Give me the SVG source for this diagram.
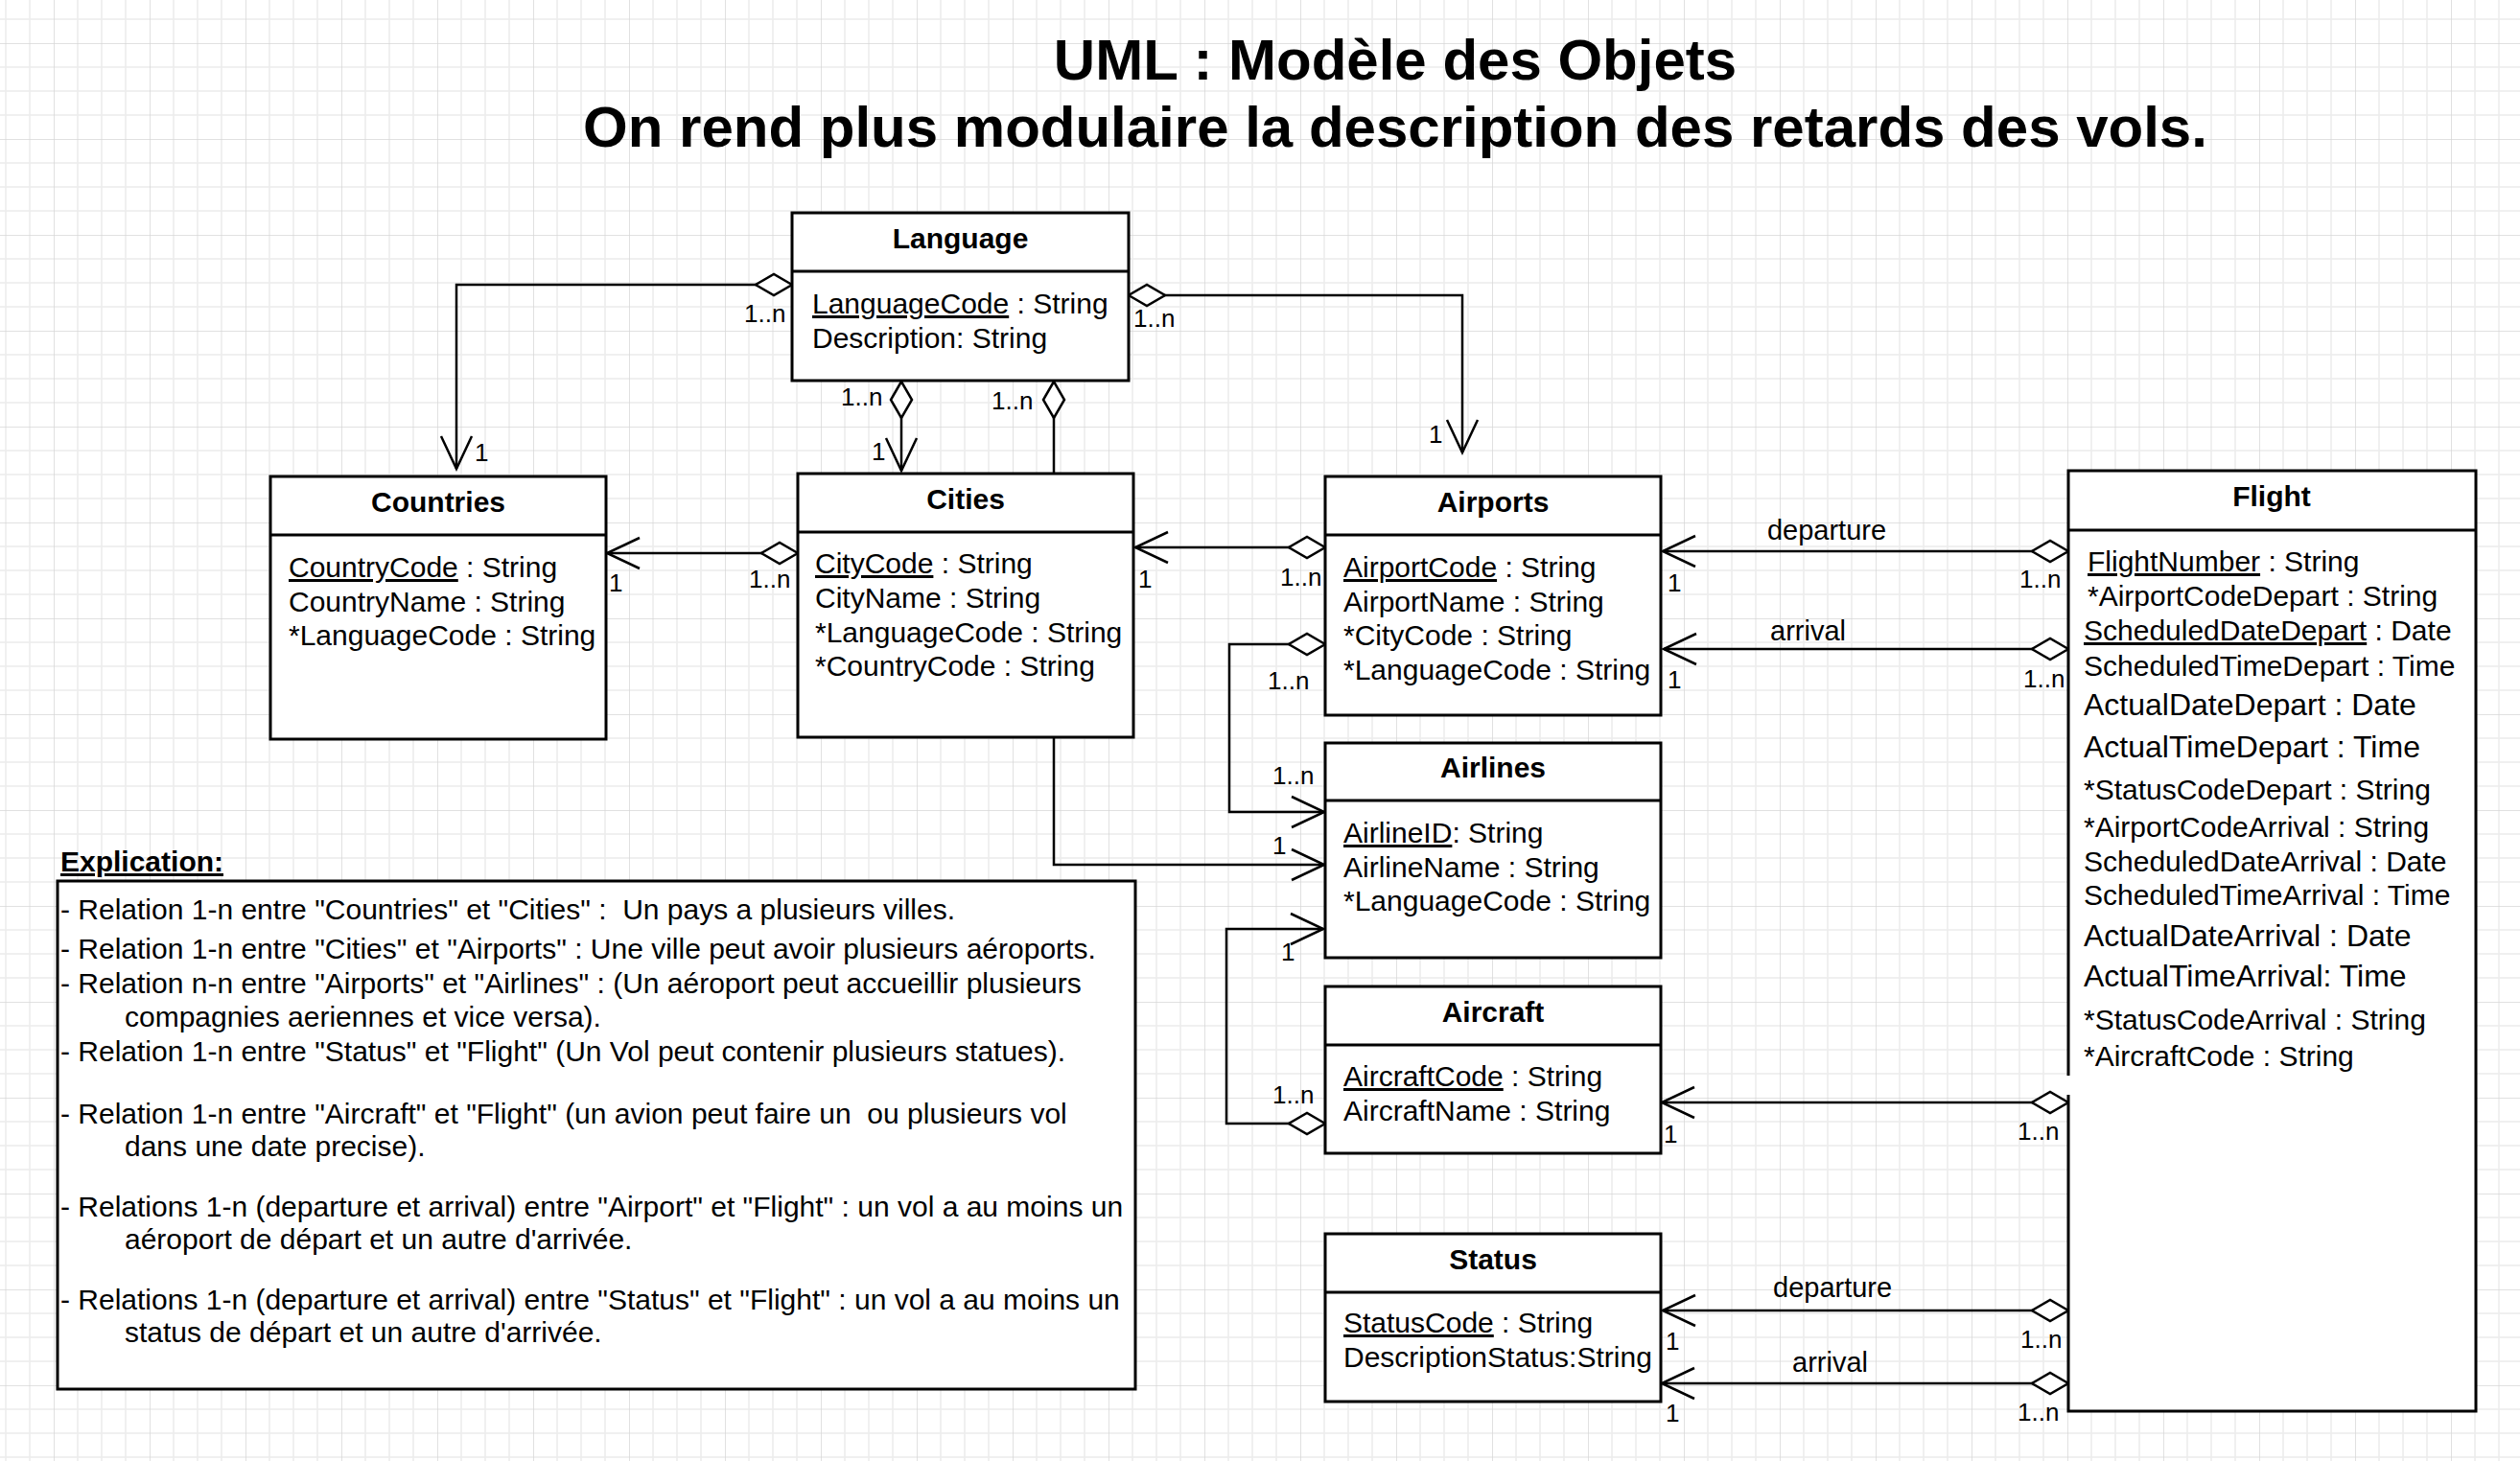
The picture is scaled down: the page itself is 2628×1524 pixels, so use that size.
<svg xmlns="http://www.w3.org/2000/svg" width="2628" height="1524" viewBox="0 0 2628 1524">
<style>
text{font-family:"Liberation Sans",Arial,sans-serif;fill:#000;white-space:pre}
.box{fill:#fff;stroke:#000;stroke-width:3}
.div{stroke:#000;stroke-width:3}
.hd{font-size:30px;font-weight:bold;text-anchor:middle}
.at{font-size:30px}
.big{font-size:32px}
.ex{font-size:30px}
.lbl{font-size:26px}
.el{font-size:29px}
.title{font-size:60px;font-weight:bold;text-anchor:middle}
.con{fill:none;stroke:#000;stroke-width:2.5}
</style>
<defs>
<pattern id="grid" patternUnits="userSpaceOnUse" x="56" y="45" width="100" height="100">
<path d="M25,0V100M50,0V100M75,0V100M0,25H100M0,50H100M0,75H100" stroke="#ececec" stroke-width="1.5" fill="none"/>
<path d="M0,0V100M0,0H100" stroke="#d7d7d7" stroke-width="1.5" fill="none"/>
</pattern>
<marker id="dia" markerUnits="userSpaceOnUse" markerWidth="46" markerHeight="30" viewBox="-42 -15 46 30" refX="0" refY="0" orient="auto-start-reverse">
<path d="M0,0 L-19,-11 L-38,0 L-19,11 Z" fill="#fff" stroke="#000" stroke-width="2.5"/>
</marker>
<marker id="arr" markerUnits="userSpaceOnUse" markerWidth="42" markerHeight="40" viewBox="-38 -20 42 40" refX="0" refY="0" orient="auto">
<path d="M-34,-16 L0,0 L-34,16" fill="none" stroke="#000" stroke-width="2.5"/>
</marker>
</defs>
<rect width="2628" height="1524" fill="#fff"/>
<rect width="2628" height="1524" fill="url(#grid)"/>

<g id="title">
<text class="title" x="1455" y="83">UML : Modèle des Objets</text>
<text class="title" x="1455" y="153">On rend plus modulaire la description des retards des vols.</text>
</g>

<g id="connectors">
<path class="con" d="M826,297 H476 V489" marker-start="url(#dia)" marker-end="url(#arr)"/>
<path class="con" d="M1177,308 H1525 V472" marker-start="url(#dia)" marker-end="url(#arr)"/>
<path class="con" d="M940,398 V491" marker-start="url(#dia)" marker-end="url(#arr)"/>
<path class="con" d="M1099,398 V494" marker-start="url(#dia)"/>
<path class="con" d="M832,577 H633" marker-start="url(#dia)" marker-end="url(#arr)"/>
<path class="con" d="M1382,571 H1184" marker-start="url(#dia)" marker-end="url(#arr)"/>
<path class="con" d="M2157,575 H1734" marker-start="url(#dia)" marker-end="url(#arr)"/>
<path class="con" d="M2157,677 H1735" marker-start="url(#dia)" marker-end="url(#arr)"/>
<path class="con" d="M1382,672 H1282 V847 H1381" marker-start="url(#dia)" marker-end="url(#arr)"/>
<path class="con" d="M1099,769 V902 H1381" marker-end="url(#arr)"/>
<path class="con" d="M1382,1172 H1279 V969 H1380" marker-start="url(#dia)" marker-end="url(#arr)"/>
<path class="con" d="M2157,1150 H1733" marker-start="url(#dia)" marker-end="url(#arr)"/>
<path class="con" d="M2157,1367 H1734" marker-start="url(#dia)" marker-end="url(#arr)"/>
<path class="con" d="M2157,1443 H1733" marker-start="url(#dia)" marker-end="url(#arr)"/>
<text class="lbl" x="776" y="336">1..n</text>
<text class="lbl" x="495" y="481">1</text>
<text class="lbl" x="1182" y="341">1..n</text>
<text class="lbl" x="1490" y="462">1</text>
<text class="lbl" x="877" y="423">1..n</text>
<text class="lbl" x="909" y="480">1</text>
<text class="lbl" x="1034" y="427">1..n</text>
<text class="lbl" x="781" y="613">1..n</text>
<text class="lbl" x="635" y="617">1</text>
<text class="lbl" x="1335" y="611">1..n</text>
<text class="lbl" x="1187" y="613">1</text>
<text class="el" x="1905" y="563" text-anchor="middle">departure</text>
<text class="lbl" x="2106" y="613">1..n</text>
<text class="lbl" x="1739" y="617">1</text>
<text class="el" x="1846" y="668">arrival</text>
<text class="lbl" x="2110" y="717">1..n</text>
<text class="lbl" x="1739" y="718">1</text>
<text class="lbl" x="1322" y="719">1..n</text>
<text class="lbl" x="1327" y="818">1..n</text>
<text class="lbl" x="1327" y="891">1</text>
<text class="lbl" x="1336" y="1002">1</text>
<text class="lbl" x="1327" y="1151">1..n</text>
<text class="lbl" x="2104" y="1189">1..n</text>
<text class="lbl" x="1735" y="1192">1</text>
<text class="el" x="1849" y="1353">departure</text>
<text class="lbl" x="2107" y="1406">1..n</text>
<text class="lbl" x="1737" y="1408">1</text>
<text class="el" x="1869" y="1431">arrival</text>
<text class="lbl" x="2104" y="1482">1..n</text>
<text class="lbl" x="1737" y="1483">1</text>
</g>

<g id="language">
<rect class="box" x="826" y="222" width="351" height="175"/>
<line class="div" x1="826" y1="283" x2="1177" y2="283"/>
<text class="hd" x="1001.5" y="259">Language</text>
<text class="at" x="847" y="327"><tspan text-decoration="underline">LanguageCode</tspan> : String</text>
<text class="at" x="847" y="363">Description: String</text>
</g>

<g id="countries">
<rect class="box" x="282" y="497" width="350" height="274"/>
<line class="div" x1="282" y1="558" x2="632" y2="558"/>
<text class="hd" x="457" y="534">Countries</text>
<text class="at" x="301" y="602"><tspan text-decoration="underline">CountryCode</tspan> : String</text>
<text class="at" x="301" y="637.5">CountryName : String</text>
<text class="at" x="301" y="673">*LanguageCode : String</text>
</g>

<g id="cities">
<rect class="box" x="832" y="494" width="350" height="275"/>
<line class="div" x1="832" y1="555" x2="1182" y2="555"/>
<text class="hd" x="1007" y="531">Cities</text>
<text class="at" x="850" y="598"><tspan text-decoration="underline">CityCode</tspan> : String</text>
<text class="at" x="850" y="634">CityName : String</text>
<text class="at" x="850" y="669.5">*LanguageCode : String</text>
<text class="at" x="850" y="705">*CountryCode : String</text>
</g>

<g id="airports">
<rect class="box" x="1382" y="497" width="350" height="249"/>
<line class="div" x1="1382" y1="558" x2="1732" y2="558"/>
<text class="hd" x="1557" y="534">Airports</text>
<text class="at" x="1401" y="602"><tspan text-decoration="underline">AirportCode</tspan> : String</text>
<text class="at" x="1401" y="637.5">AirportName : String</text>
<text class="at" x="1401" y="673">*CityCode : String</text>
<text class="at" x="1401" y="708.5">*LanguageCode : String</text>
</g>

<g id="airlines">
<rect class="box" x="1382" y="775" width="350" height="224"/>
<line class="div" x1="1382" y1="835" x2="1732" y2="835"/>
<text class="hd" x="1557" y="811">Airlines</text>
<text class="at" x="1401" y="879"><tspan text-decoration="underline">AirlineID</tspan>: String</text>
<text class="at" x="1401" y="914.5">AirlineName : String</text>
<text class="at" x="1401" y="950">*LanguageCode : String</text>
</g>

<g id="aircraft">
<rect class="box" x="1382" y="1029" width="350" height="174"/>
<line class="div" x1="1382" y1="1090" x2="1732" y2="1090"/>
<text class="hd" x="1557" y="1066">Aircraft</text>
<text class="at" x="1401" y="1133"><tspan text-decoration="underline">AircraftCode</tspan> : String</text>
<text class="at" x="1401" y="1168.5">AircraftName : String</text>
</g>

<g id="status">
<rect class="box" x="1382" y="1287" width="350" height="175"/>
<line class="div" x1="1382" y1="1348" x2="1732" y2="1348"/>
<text class="hd" x="1557" y="1324">Status</text>
<text class="at" x="1401" y="1390"><tspan text-decoration="underline">StatusCode</tspan> : String</text>
<text class="at" x="1401" y="1426">DescriptionStatus:String</text>
</g>

<g id="flight">
<rect class="box" x="2157" y="491" width="425" height="981"/>
<line class="div" x1="2157" y1="553" x2="2582" y2="553"/>
<text class="hd" x="2369" y="528">Flight</text>
<text class="at" x="2177" y="596"><tspan text-decoration="underline">FlightNumber</tspan> : String</text>
<text class="at" x="2177" y="632">*AirportCodeDepart : String</text>
<text class="at" x="2173" y="668"><tspan text-decoration="underline">ScheduledDateDepart</tspan> : Date</text>
<text class="at" x="2173" y="705">ScheduledTimeDepart : Time</text>
<text class="big" x="2173" y="746">ActualDateDepart : Date</text>
<text class="big" x="2173" y="790">ActualTimeDepart : Time</text>
<text class="at" x="2173" y="834">*StatusCodeDepart : String</text>
<text class="at" x="2173" y="873">*AirportCodeArrival : String</text>
<text class="at" x="2173" y="909">ScheduledDateArrival : Date</text>
<text class="at" x="2173" y="944">ScheduledTimeArrival : Time</text>
<text class="big" x="2173" y="987">ActualDateArrival : Date</text>
<text class="big" x="2173" y="1029">ActualTimeArrival: Time</text>
<text class="at" x="2173" y="1074">*StatusCodeArrival : String</text>
<text class="at" x="2173" y="1112">*AircraftCode : String</text>
<rect x="2155" y="1122" width="16" height="20" fill="#fff"/>
</g>

<g id="explication">
<text x="63" y="909" style="font-size:30px;font-weight:bold;text-decoration:underline">Explication:</text>
<rect class="box" x="60" y="919" width="1124" height="530"/>
<text class="ex" x="63" y="959">- Relation 1-n entre "Countries" et "Cities" :  Un pays a plusieurs villes.</text>
<text class="ex" x="63" y="1000">- Relation 1-n entre "Cities" et "Airports" : Une ville peut avoir plusieurs aéroports.</text>
<text class="ex" x="63" y="1036">- Relation n-n entre "Airports" et "Airlines" : (Un aéroport peut accueillir plusieurs</text>
<text class="ex" x="130" y="1071">compagnies aeriennes et vice versa).</text>
<text class="ex" x="63" y="1107">- Relation 1-n entre "Status" et "Flight" (Un Vol peut contenir plusieurs statues).</text>
<text class="ex" x="63" y="1172">- Relation 1-n entre "Aircraft" et "Flight" (un avion peut faire un  ou plusieurs vol</text>
<text class="ex" x="130" y="1206">dans une date precise).</text>
<text class="ex" x="63" y="1269">- Relations 1-n (departure et arrival) entre "Airport" et "Flight" : un vol a au moins un</text>
<text class="ex" x="130" y="1303">aéroport de départ et un autre d'arrivée.</text>
<text class="ex" x="63" y="1366">- Relations 1-n (departure et arrival) entre "Status" et "Flight" : un vol a au moins un</text>
<text class="ex" x="130" y="1400">status de départ et un autre d'arrivée.</text>
</g>
</svg>
